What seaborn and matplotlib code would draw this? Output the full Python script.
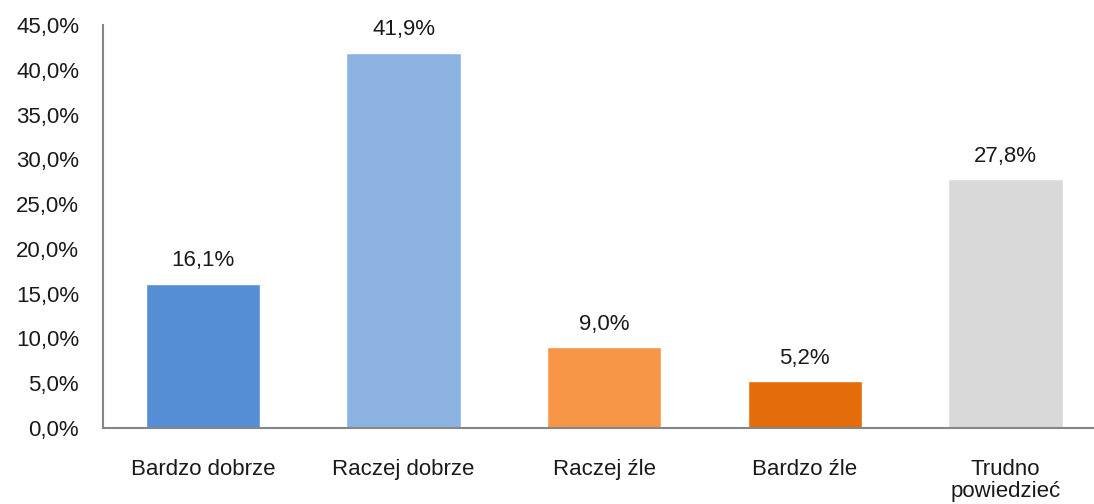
import matplotlib
matplotlib.use("Agg")
import matplotlib.pyplot as plt
import seaborn as sns
import pandas as pd

categories = ["Bardzo dobrze", "Raczej dobrze", "Raczej źle", "Bardzo źle", "Trudno\npowiedzieć"]
values = [16.1, 41.9, 9.0, 5.2, 27.8]
colors = ["#558ED5", "#8DB3E2", "#F79646", "#E46C0A", "#D9D9D9"]
yticks = [0, 5, 10, 15, 20, 25, 30, 35, 40, 45]

sns.set_theme(style="white")
plt.rcParams["font.family"] = ["Liberation Sans", "DejaVu Sans"]

df = pd.DataFrame({"cat": categories, "val": values})

FS = 16
fig = plt.figure(figsize=(10.94, 5.04), dpi=100)
# axes run slightly past the right edge of the canvas
ax = fig.add_axes([0.0939, 0.1508, 0.9168, 0.7996])
sns.barplot(data=df, x="cat", y="val", hue="cat", palette=colors, legend=False,
            width=0.57, saturation=1, ax=ax)

ax.set_ylim(0, 45)
ax.set_yticks(yticks)
ax.set_yticklabels([f"{v:.1f}%".replace(".", ",") for v in yticks], fontsize=FS, color="#1a1a1a")
ax.tick_params(axis="x", labelsize=FS, colors="#1a1a1a", pad=22, length=0)
ax.tick_params(axis="y", length=0, pad=17)
for lab in ax.get_xticklabels():
    lab.set_linespacing(1.1)
ax.set_xlabel("")
ax.set_ylabel("")
ax.set_xlim(-0.5, 4.5)

for s in ["top", "right"]:
    ax.spines[s].set_visible(False)
for s in ["left", "bottom"]:
    ax.spines[s].set_color("#868686")
    ax.spines[s].set_linewidth(1.5)

for i, v in enumerate(values):
    ax.annotate(f"{v:.1f}%".replace(".", ","), (i, v), xytext=(0, 9),
                textcoords="offset points", ha="center", va="bottom",
                fontsize=FS, color="#1a1a1a")

fig.savefig("out.png", dpi=100)
